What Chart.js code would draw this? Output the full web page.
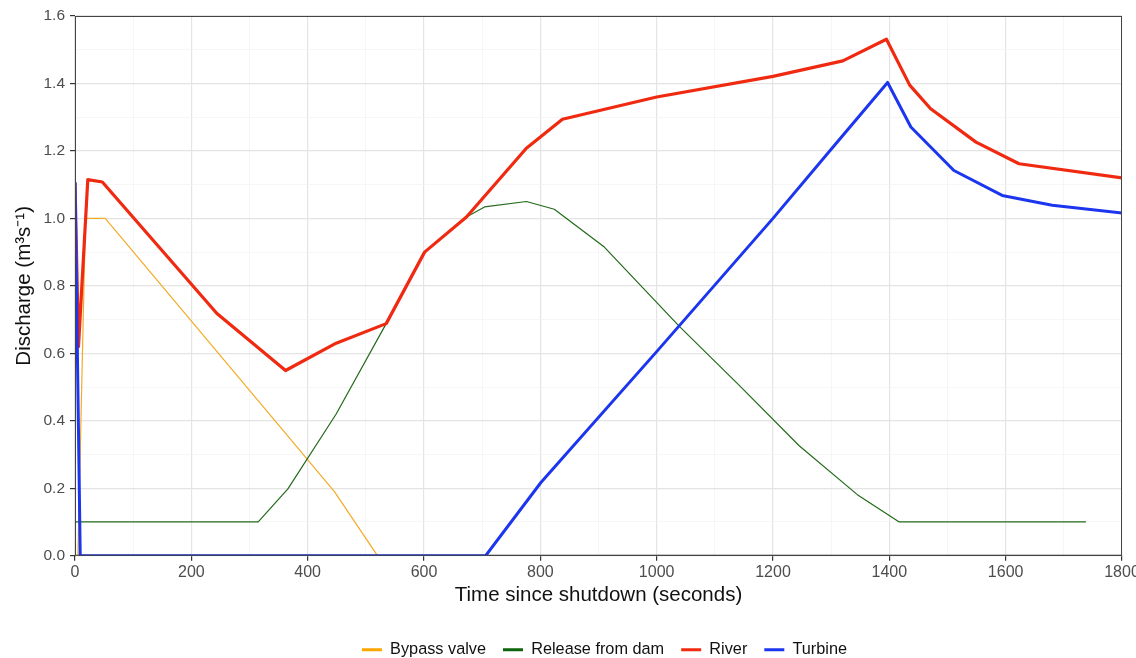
<!DOCTYPE html>
<html>
<head>
<meta charset="utf-8">
<script src="https://cdn.jsdelivr.net/npm/chart.js@4/dist/chart.umd.min.js"></script>
<style>
  html, body { margin: 0; padding: 0; background: #fff; }
  #wrap { width: 1136px; height: 658px; position: relative; }
</style>
</head>
<body>
<div id="wrap"><canvas id="chart" width="1136" height="658"></canvas></div>
<script>
// values: time (s) and discharge (m3/s)
const bypassTime = [0, 5, 18, 52, 446, 520];
const bypassFlow = [0, 0, 1.0, 1.0, 0.19, 0];

const releaseTime = [0, 315, 366, 449, 535, 601, 673, 704, 776, 824, 910, 1039, 1142, 1245, 1345, 1417, 1738];
const releaseFlow = [0.1, 0.1, 0.198, 0.42, 0.688, 0.9, 1.004, 1.034, 1.05, 1.027, 0.915, 0.68, 0.505, 0.326, 0.181, 0.1, 0.1];

const riverTime = [0, 6, 22, 47, 244, 362, 449, 535, 601, 673, 776, 838, 1000, 1200, 1320, 1395, 1435, 1471, 1549, 1623, 1800];
const riverFlow = [1.107, 0.62, 1.115, 1.108, 0.718, 0.549, 0.63, 0.688, 0.9, 1.004, 1.208, 1.294, 1.36, 1.421, 1.467, 1.531, 1.395, 1.325, 1.226, 1.162, 1.12];

const turbineTime = [0, 9, 706, 801, 1000, 1200, 1300, 1397, 1437, 1511, 1594, 1680, 1800];
const turbineFlow = [1.107, 0, 0, 0.217, 0.605, 1.0, 1.205, 1.403, 1.271, 1.142, 1.068, 1.039, 1.016];

const xTicks = [0, 200, 400, 600, 800, 1000, 1200, 1400, 1600, 1800];
const yTicks = [0.0, 0.2, 0.4, 0.6, 0.8, 1.0, 1.2, 1.4, 1.6];

const toPoints = (xs, ys) => xs.map((x, i) => ({ x: x, y: ys[i] }));

const isMajorX = v => xTicks.includes(v);
const isMajorY = v => yTicks.some(t => Math.abs(t - v) < 1e-6);

// ggplot-like panel border on all four sides, legend centred under the panel
const panelBorder = {
    id: 'panelBorder',
    afterLayout(chart) {
        const a = chart.chartArea;
        const lg = chart.legend;
        const shift = (a.left + a.right) / 2 + 6 - (lg.left + lg.right) / 2;
        lg.left += shift;
        lg.right += shift;
    },
    afterDraw(chart) {
        const a = chart.chartArea;
        const ctx = chart.ctx;
        ctx.save();
        ctx.strokeStyle = '#444444';
        ctx.lineWidth = 1;
        ctx.strokeRect(a.left + 0.5, a.top + 0.5, a.right - a.left - 1, a.bottom - a.top - 1);
        ctx.restore();
    }
};

const ctx = document.getElementById('chart').getContext('2d');
new Chart(ctx, {
    type: 'line',
    data: {
        datasets: [
            { label: 'Turbine', data: toPoints(turbineTime, turbineFlow), borderColor: '#1b36ee', backgroundColor: '#1b36ee', borderWidth: 3 },
            { label: 'River', data: toPoints(riverTime, riverFlow), borderColor: '#f02a10', backgroundColor: '#f02a10', borderWidth: 3.2 },
            { label: 'Release from dam', data: toPoints(releaseTime, releaseFlow), borderColor: '#236a1a', backgroundColor: '#0d640d', borderWidth: 1.2 },
            { label: 'Bypass valve', data: toPoints(bypassTime, bypassFlow), borderColor: '#f4ab25', backgroundColor: '#ffa500', borderWidth: 1.2 }
        ]
    },
    options: {
        responsive: false,
        animation: false,
        devicePixelRatio: 1,
        layout: { padding: { left: 0, top: 16, right: 14, bottom: -10 } },
        elements: {
            line: { tension: 0, fill: false, borderJoinStyle: 'round', borderCapStyle: 'butt' },
            point: { radius: 0, hoverRadius: 0 }
        },
        scales: {
            x: {
                type: 'linear',
                min: 0,
                max: 1800,
                ticks: {
                    stepSize: 100,
                    autoSkip: false,
                    maxRotation: 0,
                    padding: 2,
                    color: '#4d4d4d',
                    font: { family: 'Liberation Sans', size: 16 },
                    callback: v => isMajorX(v) ? String(v) : ''
                },
                grid: {
                    color: c => isMajorX(c.tick.value) ? '#e4e4e4' : '#f2f2f2',
                    lineWidth: c => isMajorX(c.tick.value) ? 1.2 : 0.7,
                    tickColor: c => isMajorX(c.tick.value) ? '#333333' : 'rgba(0,0,0,0)',
                    tickLength: 5
                },
                border: { color: '#444444', width: 1 },
                title: {
                    display: true,
                    text: 'Time since shutdown (seconds)',
                    color: '#111111',
                    font: { family: 'Liberation Sans', size: 20.5 },
                    padding: { top: 2, bottom: 17 }
                },
                afterFit: s => { s.height = 69; s.paddingLeft = 0; s.paddingRight = 0; }
            },
            y: {
                type: 'linear',
                min: 0,
                max: 1.6,
                ticks: {
                    stepSize: 0.1,
                    autoSkip: false,
                    padding: 5,
                    color: '#4d4d4d',
                    font: { family: 'Liberation Sans', size: 15.5 },
                    callback: v => isMajorY(v) ? v.toFixed(1) : ''
                },
                grid: {
                    color: c => isMajorY(c.tick.value) ? '#e4e4e4' : '#f2f2f2',
                    lineWidth: c => isMajorY(c.tick.value) ? 1.2 : 0.7,
                    tickColor: c => isMajorY(c.tick.value) ? '#333333' : 'rgba(0,0,0,0)',
                    tickLength: 5
                },
                border: { color: '#444444', width: 1 },
                title: {
                    display: true,
                    text: 'Discharge (m\u00b3s\u207b\u00b9)',
                    color: '#111111',
                    font: { family: 'Liberation Sans', size: 20.5 },
                    padding: { top: 12, bottom: 4 }
                },
                afterFit: s => { s.width = 75; s.paddingTop = 0; s.paddingBottom = 0; }
            }
        },
        plugins: {
            legend: {
                position: 'bottom',
                reverse: true,
                labels: {
                    boxWidth: 20,
                    boxHeight: 3,
                    padding: 17,
                    color: '#111111',
                    font: { family: 'Liberation Sans', size: 16.3 },
                    generateLabels: chart => Chart.defaults.plugins.legend.labels.generateLabels(chart)
                        .map(item => Object.assign(item, { lineWidth: 0 }))
                }
            },
            tooltip: { enabled: false }
        }
    },
    plugins: [panelBorder]
});
</script>
</body>
</html>
